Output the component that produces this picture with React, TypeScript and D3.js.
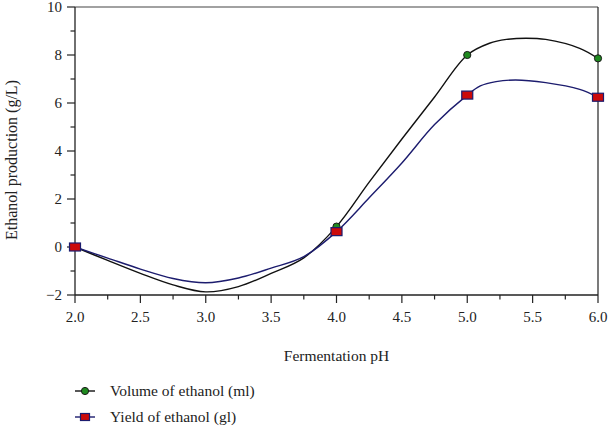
import React from "react";
import * as d3 from "d3";

const markerX = [2.0, 4.0, 5.0, 6.0];
const volumeMarkers = [0.0, 0.85, 8.0, 7.86];
const yieldMarkers = [0.0, 0.64, 6.33, 6.24];

const volumeCurveX = [2.0, 2.25, 2.5, 2.75, 3.0, 3.25, 3.5, 3.75, 4.0, 4.25, 4.5, 4.75, 5.0, 5.17, 5.3, 5.45, 5.6, 5.86, 6.0];
const volumeCurveY = [0.0, -0.56, -1.1, -1.58, -1.87, -1.65, -1.1, -0.45, 0.85, 2.7, 4.5, 6.25, 8.0, 8.49, 8.65, 8.7, 8.65, 8.28, 7.86];

const yieldCurveX = [2.0, 2.25, 2.5, 2.75, 3.0, 3.25, 3.5, 3.75, 4.0, 4.25, 4.5, 4.75, 5.0, 5.1, 5.22, 5.37, 5.6, 5.86, 6.0];
const yieldCurveY = [0.0, -0.46, -0.92, -1.31, -1.49, -1.29, -0.88, -0.4, 0.64, 2.05, 3.5, 5.1, 6.33, 6.71, 6.89, 6.96, 6.85, 6.57, 6.24];

const xTicks = [2.0, 2.5, 3.0, 3.5, 4.0, 4.5, 5.0, 5.5, 6.0];
const xMinor = [2.25, 2.75, 3.25, 3.75, 4.25, 4.75, 5.25, 5.75];
const yTicks = [-2, 0, 2, 4, 6, 8, 10];
const yMinor = [-1, 1, 3, 5, 7, 9];

const seriesNames = ["Volume of ethanol (ml)", "Yield of ethanol (gl)"];
const xTitle = "Fermentation pH";
const yTitle = "Ethanol production (g/L)";

const W = 608;
const H = 428;
const L = 75, R = 598, T = 7, B = 295;
const FONT = "'Liberation Serif', 'DejaVu Serif', serif";
const BLACK = "#111";
const NAVY = "#1c1c6e";
const GREEN = "#1f8a1f";
const RED = "#cc0a0a";

export default function App() {
  const x = d3.scaleLinear().domain([2, 6]).range([L, R]);
  const y = d3.scaleLinear().domain([-2, 10]).range([B, T]);
  const line = d3
    .line<[number, number]>()
    .x((d) => x(d[0]))
    .y((d) => y(d[1]))
    .curve(d3.curveCatmullRom.alpha(0.5));

  const volPath = line(volumeCurveX.map((v, i) => [v, volumeCurveY[i]]) as [number, number][]) || "";
  const yldPath = line(yieldCurveX.map((v, i) => [v, yieldCurveY[i]]) as [number, number][]) || "";

  const sqW = 11, sqH = 8;

  return (
    <svg width={W} height={H} style={{ position: "absolute", left: 0, top: 0, background: "#fff" }}>
      <rect x={0} y={0} width={W} height={H} fill="#fff" />
      {/* frame */}
      <line x1={L} x2={R} y1={T} y2={T} stroke="#444" strokeWidth={1.2} />
      <line x1={R} x2={R} y1={T} y2={B} stroke="#222" strokeWidth={1.2} />
      <line x1={L} x2={L} y1={T} y2={B} stroke="#222" strokeWidth={1.3} />
      <line x1={L} x2={R} y1={B} y2={B} stroke="#222" strokeWidth={1.3} />

      {/* x ticks */}
      {xTicks.map((t) => (
        <g key={"xt" + t}>
          <line x1={x(t)} x2={x(t)} y1={B} y2={B + 8} stroke="#222" strokeWidth={1.2} />
          <text x={x(t)} y={322} textAnchor="middle" fontFamily={FONT} fontSize={15} fill="#222">
            {t.toFixed(1)}
          </text>
        </g>
      ))}
      {xMinor.map((t) => (
        <line key={"xm" + t} x1={x(t)} x2={x(t)} y1={B} y2={B + 4.5} stroke="#222" strokeWidth={1.2} />
      ))}

      {/* y ticks */}
      {yTicks.map((t) => (
        <g key={"yt" + t}>
          <line x1={L - 8} x2={L} y1={y(t)} y2={y(t)} stroke="#222" strokeWidth={1.2} />
          <text x={62} y={y(t) + 5} textAnchor="end" fontFamily={FONT} fontSize={15} fill="#222">
            {t < 0 ? "\u2212" + Math.abs(t) : String(t)}
          </text>
        </g>
      ))}
      {yMinor.map((t) => (
        <line key={"ym" + t} x1={L - 4.5} x2={L} y1={y(t)} y2={y(t)} stroke="#222" strokeWidth={1.2} />
      ))}

      {/* titles */}
      <text x={(L + R) / 2} y={361} textAnchor="middle" fontFamily={FONT} fontSize={15.5} fill="#222">
        {xTitle}
      </text>
      <text
        transform={`translate(17, ${160}) rotate(-90)`}
        textAnchor="middle"
        fontFamily={FONT}
        fontSize={16}
        fill="#222"
      >
        {yTitle}
      </text>

      {/* curves */}
      <path d={volPath} fill="none" stroke={BLACK} strokeWidth={1.4} />
      <path d={yldPath} fill="none" stroke={NAVY} strokeWidth={1.4} />

      {/* markers */}
      {markerX.map((mx, i) => (
        <circle key={"c" + i} cx={x(mx)} cy={y(volumeMarkers[i])} r={3.6} fill={GREEN} stroke="#1a1a1a" strokeWidth={1} />
      ))}
      {markerX.map((mx, i) => (
        <rect
          key={"s" + i}
          x={x(mx) - sqW / 2}
          y={y(yieldMarkers[i]) - sqH / 2}
          width={sqW}
          height={sqH}
          fill={RED}
          stroke={NAVY}
          strokeWidth={1.2}
        />
      ))}

      {/* legend */}
      <g>
        <line x1={75} x2={95} y1={391} y2={391} stroke={BLACK} strokeWidth={1.4} />
        <circle cx={85} cy={391} r={3.6} fill={GREEN} stroke="#1a1a1a" strokeWidth={1} />
        <text x={110} y={396} fontFamily={FONT} fontSize={15.5} fill="#222">
          {seriesNames[0]}
        </text>
        <line x1={75} x2={95} y1={417} y2={417} stroke={NAVY} strokeWidth={1.4} />
        <rect x={85 - 4.5} y={417 - 3.5} width={9} height={7} fill={RED} stroke={NAVY} strokeWidth={1.2} />
        <text x={110} y={422} fontFamily={FONT} fontSize={15.5} fill="#222">
          {seriesNames[1]}
        </text>
      </g>
    </svg>
  );
}
